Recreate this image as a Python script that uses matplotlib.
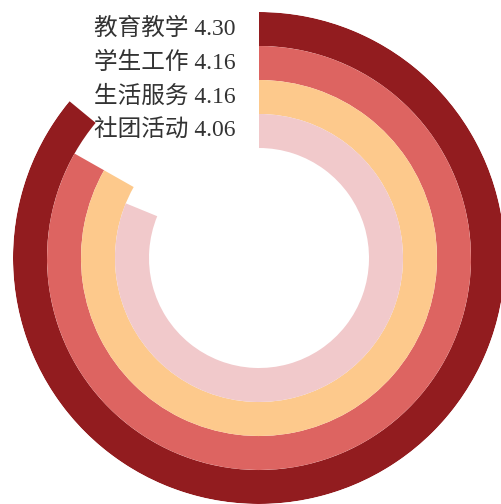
import numpy as np
import matplotlib
matplotlib.use('Agg')
import matplotlib.pyplot as plt

# 数据
categories = ['教育教学', '学生工作', '生活服务', '社团活动']
scores = [4.30, 4.16, 4.16, 4.06]
max_score = 5.0
colors = ['#921C1F', '#DD6461', '#FDC98C', '#F1C9CB']

plt.rcParams['font.family'] = ['Liberation Serif', 'Noto Sans CJK SC', 'DejaVu Sans']

W, H = 501, 504
fig = plt.figure(figsize=(W / 100, H / 100), dpi=100)
fig.patch.set_facecolor('white')

# 圆心和外半径（像素）
cx, cy, R = 259, 258, 246
ax = fig.add_axes([(cx - R) / W, (H - cy - R) / H, 2 * R / W, 2 * R / H], projection='polar')
ax.set_theta_zero_location('N')
ax.set_theta_direction(-1)

ring_w = 34
inner = 110
radii = [inner + ring_w * (len(scores) - 1 - i) + ring_w / 2 for i in range(len(scores))]
thetas = [s / max_score * 2 * np.pi for s in scores]

ax.barh(radii, thetas, height=ring_w, left=0, color=colors, edgecolor='none', align='center')

for name, s, r in zip(categories, scores, radii):
    ax.annotate(f'{name} {s:.2f}', xy=(0, r), xytext=(-17, 0), textcoords='offset points',
                ha='right', va='center', fontsize=17, color='#333333')

ax.set_ylim(0, R)
ax.set_axis_off()

fig.savefig('out.png', dpi=100, facecolor='white')
